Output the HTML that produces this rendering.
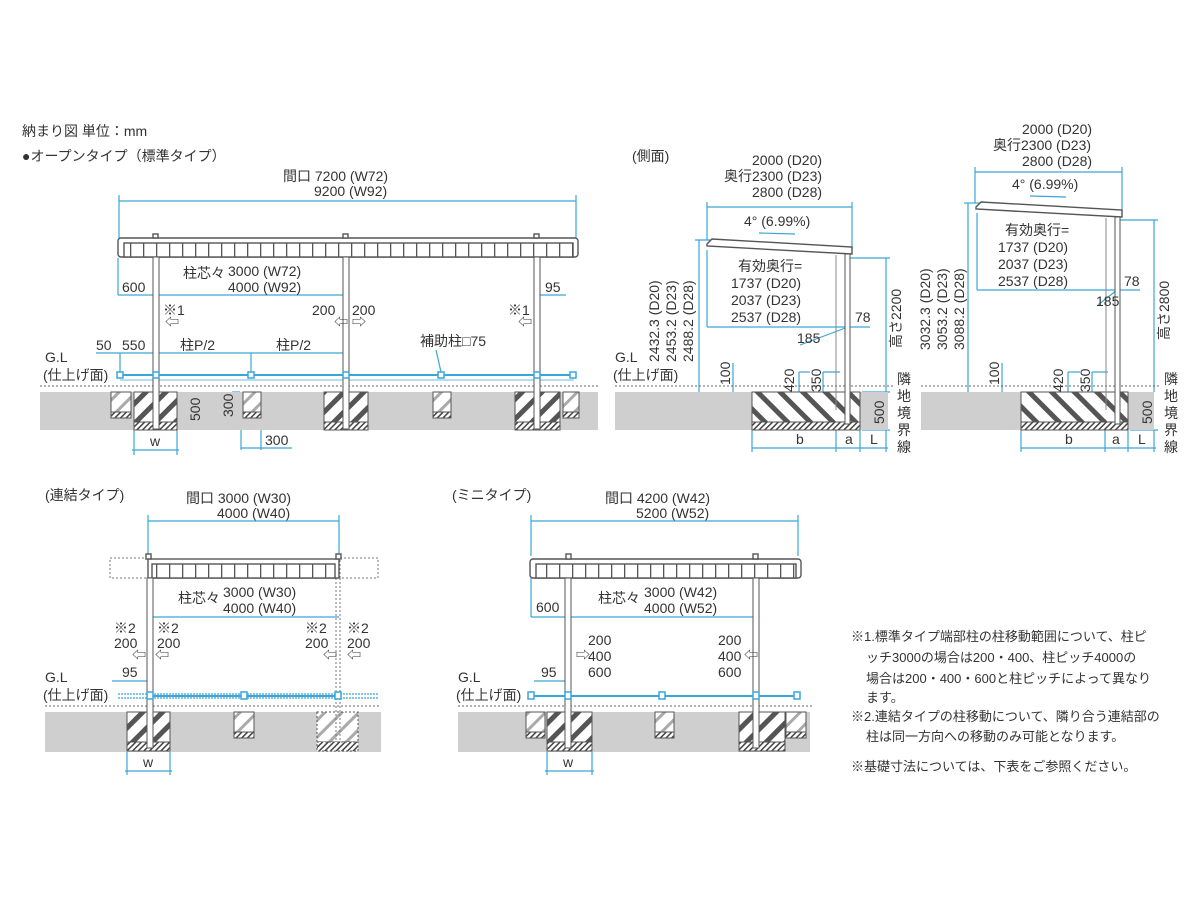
<!DOCTYPE html>
<html><head><meta charset="utf-8"><style>
body{margin:0;background:#fff}
svg{display:block}
text{font-family:"Liberation Sans","Noto Sans CJK JP",sans-serif;fill:#333;font-size:14px}
.n{font-size:13px}
</style></head><body>
<svg width="1200" height="900" viewBox="0 0 1200 900" xmlns="http://www.w3.org/2000/svg">
<defs>
<pattern id="hat" width="14" height="14" patternUnits="userSpaceOnUse" patternTransform="rotate(45)">
<rect width="14" height="14" fill="#fff"/><rect x="0" y="0" width="5" height="14" fill="#555"/></pattern>
<pattern id="hat2" width="16" height="16" patternUnits="userSpaceOnUse" patternTransform="rotate(-45)">
<rect width="16" height="16" fill="#fff"/><rect x="0" y="0" width="5" height="16" fill="#555"/></pattern>
<pattern id="hatl" width="12" height="12" patternUnits="userSpaceOnUse" patternTransform="rotate(45)">
<rect width="12" height="12" fill="#fff"/><rect x="0" y="0" width="3" height="12" fill="#aaa"/></pattern>
<pattern id="strip" width="4" height="4" patternUnits="userSpaceOnUse" patternTransform="rotate(45)">
<rect width="4" height="4" fill="#fff"/><rect width="1.5" height="4" fill="#444"/></pattern>
<pattern id="rib" width="13" height="20" patternUnits="userSpaceOnUse">
<rect width="13" height="20" fill="#fff"/><rect x="0" width="1.3" height="20" fill="#555"/></pattern>
</defs>

<text x="22" y="136" font-size="15">納まり図 単位：mm</text>
<text x="22" y="161">●オープンタイプ（標準タイプ）</text>

<!-- ===== Top-left ===== -->
<g stroke="#3aa6d8" stroke-width="1.2" fill="none">
<line x1="119" y1="201" x2="576" y2="201"/><line x1="119" y1="195" x2="119" y2="240"/><line x1="576" y1="195" x2="576" y2="240"/>
<line x1="118" y1="295" x2="346" y2="295"/><line x1="537" y1="295" x2="566" y2="295"/>
<line x1="96" y1="353" x2="346" y2="353"/><line x1="120" y1="353" x2="120" y2="375"/><line x1="251" y1="353" x2="251" y2="375"/>
<line x1="120" y1="375" x2="574" y2="375" stroke-width="2"/>
<line x1="120" y1="380" x2="574" y2="380" stroke-width="0.8"/>
<line x1="436" y1="350" x2="441" y2="372"/>
<line x1="180" y1="396" x2="198" y2="396"/><line x1="180" y1="422" x2="198" y2="422"/><line x1="194" y1="396" x2="194" y2="422"/>
<line x1="232" y1="392" x2="240" y2="392"/><line x1="232" y1="418" x2="240" y2="418"/><line x1="236" y1="392" x2="236" y2="418"/>
<line x1="241" y1="418" x2="241" y2="450"/><line x1="261" y1="418" x2="261" y2="450"/><line x1="241" y1="448" x2="292" y2="448"/>
<line x1="134" y1="430" x2="134" y2="455"/><line x1="177" y1="430" x2="177" y2="455"/><line x1="132" y1="450" x2="179" y2="450"/>
<line x1="118" y1="258" x2="118" y2="295"/>
</g>
<text x="283" y="181">間口 7200 (W72)</text><text x="314" y="196">9200 (W92)</text>
<rect x="40" y="392" width="558" height="38" fill="#cfcfcf"/>
<line x1="40" y1="386" x2="598" y2="386" stroke="#666" stroke-dasharray="2,2"/>
<g stroke="#555" stroke-width="1.4">
<rect x="118" y="238" width="460" height="19" rx="3" fill="#fff"/>
<rect x="124" y="243" width="449" height="14" fill="url(#rib)"/>
<rect x="153" y="234" width="5" height="4" fill="#fff"/><rect x="343" y="234" width="5" height="4" fill="#fff"/><rect x="534" y="234" width="5" height="4" fill="#fff"/>
</g>
<g stroke="#555">
<rect x="134" y="392" width="43" height="30" fill="url(#hat)"/><rect x="134" y="422" width="43" height="8" fill="url(#strip)"/>
<rect x="324" y="392" width="44" height="30" fill="url(#hat)"/><rect x="324" y="422" width="44" height="8" fill="url(#strip)"/>
<rect x="515" y="392" width="45" height="30" fill="url(#hat)"/><rect x="515" y="422" width="45" height="8" fill="url(#strip)"/>
<rect x="111" y="392" width="20" height="20" fill="url(#hatl)"/><rect x="111" y="412" width="20" height="6" fill="url(#strip)"/>
<rect x="243" y="392" width="18" height="20" fill="url(#hatl)"/><rect x="243" y="412" width="18" height="6" fill="url(#strip)"/>
<rect x="433" y="392" width="18" height="20" fill="url(#hatl)"/><rect x="433" y="412" width="18" height="6" fill="url(#strip)"/>
<rect x="563" y="392" width="16" height="20" fill="url(#hatl)"/><rect x="563" y="412" width="16" height="6" fill="url(#strip)"/>
</g>
<g fill="#fff" stroke="#555" stroke-width="1">
<rect x="153" y="257" width="6" height="172"/><rect x="343" y="257" width="6" height="172"/><rect x="534" y="257" width="6" height="172"/>
</g>
<g fill="#fff" stroke="#3aa6d8" stroke-width="1.5">
<rect x="117" y="372" width="6" height="6"/><rect x="153" y="372" width="6" height="6"/><rect x="248" y="372" width="6" height="6"/><rect x="343" y="372" width="6" height="6"/><rect x="438" y="372" width="6" height="6"/><rect x="534" y="372" width="6" height="6"/><rect x="570" y="372" width="6" height="6"/>
</g>
<text x="183" y="278">柱芯々</text><text x="228" y="276">3000 (W72)</text><text x="228" y="292">4000 (W92)</text>
<text x="122" y="292">600</text><text x="545" y="292">95</text>
<text x="163" y="315">※1</text><text x="165" y="327" font-size="10">⇦</text>
<text x="312" y="315">200</text><text x="352" y="315">200</text>
<text x="334" y="327" font-size="10">⇦</text><text x="352" y="327" font-size="10">⇨</text>
<text x="508" y="315">※1</text><text x="518" y="327" font-size="10">⇦</text>
<text x="96" y="350">50</text><text x="122" y="350">550</text><text x="180" y="350">柱P/2</text><text x="276" y="350">柱P/2</text>
<text x="420" y="346">補助柱□75</text>
<text x="45" y="362">G.L</text><text x="43" y="380">(仕上げ面)</text>
<text transform="translate(200,421) rotate(-90)">500</text>
<text transform="translate(233,417) rotate(-90)">300</text>
<text x="265" y="445">300</text><text x="150" y="446">w</text>

<!-- ===== Side 1 ===== -->
<text x="632" y="161">(側面)</text>
<text x="752" y="165">2000 (D20)</text><text x="724" y="181">奥行2300 (D23)</text><text x="752" y="197">2800 (D28)</text>
<g stroke="#3aa6d8" stroke-width="1.2" fill="none">
<line x1="707" y1="207" x2="852" y2="207"/><line x1="707" y1="202" x2="707" y2="240"/><line x1="852" y1="202" x2="852" y2="250"/>
<line x1="759" y1="233" x2="795" y2="234"/>
<line x1="699" y1="240" x2="699" y2="392"/><line x1="695" y1="240" x2="712" y2="240"/>
<line x1="707" y1="327" x2="870" y2="327"/><line x1="707" y1="250" x2="707" y2="327"/>
<line x1="848" y1="327" x2="800" y2="345"/>
<line x1="886" y1="258" x2="886" y2="392"/><line x1="850" y1="258" x2="890" y2="258"/>
<line x1="733" y1="363" x2="733" y2="392"/>
<line x1="799" y1="372" x2="799" y2="392"/><line x1="799" y1="372" x2="810" y2="372"/>
<line x1="823" y1="372" x2="823" y2="392"/><line x1="823" y1="372" x2="840" y2="372"/>
<line x1="752" y1="448" x2="888" y2="448"/><line x1="752" y1="430" x2="752" y2="452"/><line x1="836" y1="430" x2="836" y2="452"/><line x1="860" y1="430" x2="860" y2="452"/><line x1="886" y1="430" x2="886" y2="452"/>
<line x1="862" y1="392" x2="890" y2="392"/><line x1="862" y1="430" x2="890" y2="430"/>
</g>
<rect x="615" y="392" width="137" height="38" fill="#cfcfcf"/><rect x="860" y="392" width="28" height="38" fill="#cfcfcf"/>
<rect x="752" y="392" width="108" height="30" fill="url(#hat2)" stroke="#555"/><rect x="752" y="422" width="108" height="8" fill="url(#strip)" stroke="#555"/>
<line x1="615" y1="386" x2="895" y2="386" stroke="#666" stroke-dasharray="2,2"/>
<polygon points="707,244 712,239 852,247 852,254 707,246" fill="#fff" stroke="#555" stroke-width="1.4"/>
<rect x="845" y="254" width="5" height="170" fill="#fff" stroke="#555"/>
<line x1="836" y1="255" x2="836" y2="410" stroke="#888"/>
<text x="744" y="226">4° (6.99%)</text>
<text x="738" y="271">有効奥行=</text><text x="731" y="288">1737 (D20)</text><text x="731" y="305">2037 (D23)</text><text x="731" y="322">2537 (D28)</text>
<text x="855" y="322">78</text><text x="797" y="343">185</text>
<text transform="translate(659,362) rotate(-90)">2432.3 (D20)</text>
<text transform="translate(676,362) rotate(-90)">2453.2 (D23)</text>
<text transform="translate(693,362) rotate(-90)">2488.2 (D28)</text>
<text transform="translate(901,348) rotate(-90)">高さ2200</text>
<text x="615" y="362">G.L</text><text x="613" y="380">(仕上げ面)</text>
<text transform="translate(730,385) rotate(-90)">100</text>
<text transform="translate(794,392) rotate(-90)">420</text>
<text transform="translate(821,392) rotate(-90)">350</text>
<text transform="translate(884,424) rotate(-90)">500</text>
<text x="796" y="444">b</text><text x="845" y="444">a</text><text x="870" y="444">L</text>
<text x="897" y="384">隣</text><text x="897" y="401">地</text><text x="897" y="418">境</text><text x="897" y="435">界</text><text x="897" y="452">線</text>

<!-- ===== Side 2 ===== -->
<text x="1022" y="134">2000 (D20)</text><text x="993" y="150">奥行2300 (D23)</text><text x="1022" y="166">2800 (D28)</text>
<g stroke="#3aa6d8" stroke-width="1.2" fill="none">
<line x1="975" y1="172" x2="1122" y2="172"/><line x1="975" y1="167" x2="975" y2="203"/><line x1="1122" y1="167" x2="1122" y2="212"/>
<line x1="1030" y1="196" x2="1066" y2="197"/>
<line x1="968" y1="203" x2="968" y2="392"/><line x1="964" y1="203" x2="980" y2="203"/>
<line x1="977" y1="290" x2="1140" y2="290"/><line x1="977" y1="213" x2="977" y2="290"/>
<line x1="1117" y1="290" x2="1098" y2="305"/>
<line x1="1154" y1="220" x2="1154" y2="392"/><line x1="1120" y1="220" x2="1158" y2="220"/>
<line x1="1002" y1="363" x2="1002" y2="392"/>
<line x1="1068" y1="372" x2="1068" y2="392"/><line x1="1068" y1="372" x2="1080" y2="372"/>
<line x1="1092" y1="372" x2="1092" y2="392"/><line x1="1092" y1="372" x2="1108" y2="372"/>
<line x1="1021" y1="448" x2="1156" y2="448"/><line x1="1021" y1="430" x2="1021" y2="452"/><line x1="1105" y1="430" x2="1105" y2="452"/><line x1="1128" y1="430" x2="1128" y2="452"/><line x1="1154" y1="430" x2="1154" y2="452"/>
<line x1="1130" y1="430" x2="1158" y2="430"/>
</g>
<rect x="921" y="392" width="100" height="38" fill="#cfcfcf"/><rect x="1128" y="392" width="26" height="38" fill="#cfcfcf"/>
<rect x="1021" y="392" width="107" height="30" fill="url(#hat2)" stroke="#555"/><rect x="1021" y="422" width="107" height="8" fill="url(#strip)" stroke="#555"/>
<line x1="921" y1="386" x2="1160" y2="386" stroke="#666" stroke-dasharray="2,2"/>
<polygon points="976,207 981,202 1122,210 1122,217 976,209" fill="#fff" stroke="#555" stroke-width="1.4"/>
<rect x="1115" y="217" width="5" height="207" fill="#fff" stroke="#555"/>
<line x1="1106" y1="218" x2="1106" y2="410" stroke="#888"/>
<text x="1012" y="189">4° (6.99%)</text>
<text x="1005" y="235">有効奥行=</text><text x="998" y="252">1737 (D20)</text><text x="998" y="269">2037 (D23)</text><text x="998" y="286">2537 (D28)</text>
<text x="1124" y="286">78</text><text x="1096" y="306">185</text>
<text transform="translate(930,350) rotate(-90)">3032.3 (D20)</text>
<text transform="translate(947,350) rotate(-90)">3053.2 (D23)</text>
<text transform="translate(964,350) rotate(-90)">3088.2 (D28)</text>
<text transform="translate(1169,340) rotate(-90)">高さ2800</text>
<text transform="translate(999,385) rotate(-90)">100</text>
<text transform="translate(1063,392) rotate(-90)">420</text>
<text transform="translate(1090,392) rotate(-90)">350</text>
<text transform="translate(1152,424) rotate(-90)">500</text>
<text x="1065" y="444">b</text><text x="1112" y="444">a</text><text x="1138" y="444">L</text>
<text x="1164" y="384">隣</text><text x="1164" y="401">地</text><text x="1164" y="418">境</text><text x="1164" y="435">界</text><text x="1164" y="452">線</text>

<!-- ===== 連結 ===== -->
<text x="45" y="500">(連結タイプ)</text>
<text x="186" y="503">間口 3000 (W30)</text><text x="217" y="518">4000 (W40)</text>
<g stroke="#3aa6d8" stroke-width="1.2" fill="none">
<line x1="148" y1="521" x2="339" y2="521"/><line x1="148" y1="515" x2="148" y2="556"/><line x1="339" y1="515" x2="339" y2="556"/>
<line x1="150" y1="617" x2="339" y2="617"/>
<line x1="112" y1="681" x2="150" y2="681"/>
<line x1="118" y1="694" x2="378" y2="694" stroke-dasharray="2,1"/><line x1="118" y1="698" x2="378" y2="698" stroke-dasharray="2,1"/>
<line x1="150" y1="696" x2="338" y2="696" stroke-width="2"/>
<line x1="127" y1="752" x2="127" y2="775"/><line x1="170" y1="752" x2="170" y2="775"/><line x1="125" y1="771" x2="172" y2="771"/>
</g>
<rect x="45" y="712" width="336" height="40" fill="#cfcfcf"/>
<line x1="45" y1="706" x2="381" y2="706" stroke="#666" stroke-dasharray="2,2"/>
<g stroke="#555">
<rect x="127" y="712" width="43" height="30" fill="url(#hat)"/><rect x="127" y="742" width="43" height="9" fill="url(#strip)"/>
<rect x="234" y="712" width="20" height="20" fill="url(#hatl)"/><rect x="234" y="732" width="20" height="6" fill="url(#strip)"/>
<rect x="317" y="712" width="41" height="30" fill="url(#hatl)" stroke-dasharray="2,2"/><rect x="317" y="742" width="41" height="9" fill="url(#strip)" stroke-dasharray="2,2"/>
</g>
<g stroke="#777" stroke-dasharray="2,2" fill="none">
<rect x="110" y="558" width="38" height="20"/><rect x="340" y="558" width="38" height="20"/>
<line x1="340" y1="578" x2="340" y2="740"/><line x1="336" y1="578" x2="336" y2="740"/>
</g>
<g stroke="#555" stroke-width="1.4">
<rect x="148" y="559" width="191" height="19" fill="#fff"/>
<rect x="152" y="564" width="183" height="14" fill="url(#rib)"/>
<rect x="146" y="554" width="5" height="5" fill="#fff"/><rect x="336" y="554" width="5" height="5" fill="#fff"/>
<rect x="147" y="578" width="6" height="170" fill="#fff" stroke-width="1"/>
</g>
<g fill="#fff" stroke="#3aa6d8" stroke-width="1.5">
<rect x="147" y="692" width="6" height="7"/><rect x="241" y="692" width="6" height="7"/><rect x="335" y="692" width="6" height="7"/>
</g>
<text x="178" y="603">柱芯々</text><text x="223" y="597">3000 (W30)</text><text x="223" y="613">4000 (W40)</text>
<text x="114" y="633">※2</text><text x="157" y="633">※2</text><text x="305" y="633">※2</text><text x="347" y="633">※2</text>
<text x="114" y="648">200</text><text x="157" y="648">200</text><text x="305" y="648">200</text><text x="347" y="648">200</text>
<text x="132" y="660" font-size="10">⇦</text><text x="155" y="660" font-size="10">⇦</text><text x="323" y="660" font-size="10">⇦</text><text x="347" y="660" font-size="10">⇦</text>
<text x="122" y="677">95</text>
<text x="45" y="682">G.L</text><text x="43" y="700">(仕上げ面)</text>
<text x="143" y="767">w</text>

<!-- ===== ミニ ===== -->
<text x="452" y="500">(ミニタイプ)</text>
<text x="605" y="503">間口 4200 (W42)</text><text x="636" y="518">5200 (W52)</text>
<g stroke="#3aa6d8" stroke-width="1.2" fill="none">
<line x1="531" y1="521" x2="798" y2="521"/><line x1="531" y1="515" x2="531" y2="556"/><line x1="798" y1="515" x2="798" y2="556"/>
<line x1="531" y1="578" x2="531" y2="617"/><line x1="531" y1="617" x2="757" y2="617"/>
<line x1="534" y1="681" x2="568" y2="681"/>
<line x1="530" y1="696" x2="800" y2="696" stroke-width="2"/>
<line x1="547" y1="752" x2="547" y2="775"/><line x1="592" y1="752" x2="592" y2="775"/><line x1="545" y1="771" x2="594" y2="771"/>
</g>
<rect x="458" y="712" width="352" height="40" fill="#cfcfcf"/>
<line x1="458" y1="706" x2="812" y2="706" stroke="#666" stroke-dasharray="2,2"/>
<g stroke="#555">
<rect x="547" y="712" width="45" height="30" fill="url(#hat)"/><rect x="547" y="742" width="45" height="9" fill="url(#strip)"/>
<rect x="739" y="712" width="46" height="30" fill="url(#hat)"/><rect x="739" y="742" width="46" height="9" fill="url(#strip)"/>
<rect x="526" y="712" width="19" height="20" fill="url(#hatl)"/><rect x="526" y="732" width="19" height="6" fill="url(#strip)"/>
<rect x="655" y="712" width="19" height="20" fill="url(#hatl)"/><rect x="655" y="732" width="19" height="6" fill="url(#strip)"/>
<rect x="786" y="712" width="20" height="20" fill="url(#hatl)"/><rect x="786" y="732" width="20" height="6" fill="url(#strip)"/>
</g>
<g stroke="#555" stroke-width="1.4">
<rect x="530" y="559" width="271" height="19" rx="3" fill="#fff"/>
<rect x="536" y="564" width="260" height="14" fill="url(#rib)"/>
<rect x="566" y="554" width="5" height="5" fill="#fff"/><rect x="753" y="554" width="5" height="5" fill="#fff"/>
<rect x="565" y="578" width="6" height="170" fill="#fff" stroke-width="1"/><rect x="753" y="578" width="6" height="170" fill="#fff" stroke-width="1"/>
</g>
<g fill="#fff" stroke="#3aa6d8" stroke-width="1.5">
<rect x="528" y="692" width="6" height="7"/><rect x="565" y="692" width="6" height="7"/><rect x="659" y="692" width="6" height="7"/><rect x="753" y="692" width="6" height="7"/><rect x="794" y="692" width="6" height="7"/>
</g>
<text x="598" y="603">柱芯々</text><text x="644" y="597">3000 (W42)</text><text x="644" y="613">4000 (W52)</text>
<text x="536" y="612">600</text>
<text x="588" y="645">200</text><text x="588" y="661">400</text><text x="588" y="677">600</text><text x="576" y="660" font-size="10">⇨</text>
<text x="718" y="645">200</text><text x="718" y="661">400</text><text x="718" y="677">600</text><text x="744" y="660" font-size="10">⇦</text>
<text x="541" y="677">95</text>
<text x="458" y="682">G.L</text><text x="456" y="700">(仕上げ面)</text>
<text x="563" y="767">w</text>

<text class="n" x="851" y="641">※1.標準タイプ端部柱の柱移動範囲について、柱ピ</text>
<text class="n" x="866" y="662">ッチ3000の場合は200・400、柱ピッチ4000の</text>
<text class="n" x="866" y="683">場合は200・400・600と柱ピッチによって異なり</text>
<text class="n" x="866" y="702">ます。</text>
<text class="n" x="851" y="721">※2.連結タイプの柱移動について、隣り合う連結部の</text>
<text class="n" x="866" y="741">柱は同一方向への移動のみ可能となります。</text>
<text class="n" x="851" y="771">※基礎寸法については、下表をご参照ください。</text>
</svg>
</body></html>
